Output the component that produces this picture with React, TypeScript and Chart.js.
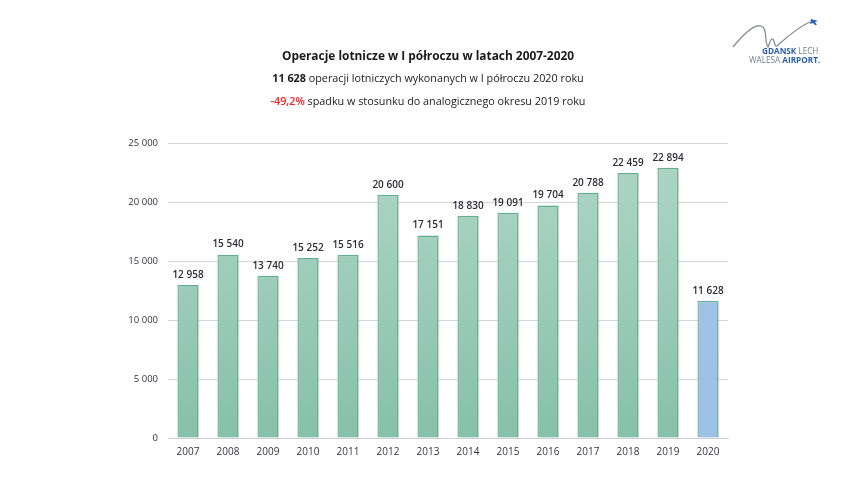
import React, { useEffect, useRef } from "react";
import { Chart, registerables } from "chart.js";

Chart.register(...registerables);

const years = ["2007", "2008", "2009", "2010", "2011", "2012", "2013", "2014", "2015", "2016", "2017", "2018", "2019", "2020"];
const operations = [12958, 15540, 13740, 15252, 15516, 20600, 17151, 18830, 19091, 19704, 20788, 22459, 22894, 11628];
const yTicks = [0, 5000, 10000, 15000, 20000, 25000];

const titleText = "Operacje lotnicze w I półroczu w latach 2007-2020";
const line2Bold = "11 628";
const line2Rest = " operacji lotniczych wykonanych w I półroczu 2020 roku";
const line3Red = "-49,2%";
const line3Rest = " spadku w stosunku do analogicznego okresu 2019 roku";

const FONT = "'Open Sans', 'Noto Sans', sans-serif";

const fmt = (v: number) => String(v).replace(/\B(?=(\d{3})+(?!\d))/g, " ");

export default function App() {
  const ref = useRef<HTMLCanvasElement | null>(null);

  useEffect(() => {
    if (!ref.current) return;
    const makeGrad = (ctx: any, area: any, blue: boolean) => {
      const g = ctx.createLinearGradient(0, area.top, 0, area.bottom);
      if (blue) {
        g.addColorStop(0, "#a2c5e8");
        g.addColorStop(1, "#9cc1e6");
      } else {
        g.addColorStop(0, "#b0d6c8");
        g.addColorStop(1, "#86c1aa");
      }
      return g;
    };

    const labelsPlugin = {
      id: "valueLabels",
      afterDatasetsDraw(chart: any) {
        const ctx = chart.ctx;
        const meta = chart.getDatasetMeta(0);
        ctx.save();
        ctx.font = `600 10px ${FONT}`;
        ctx.fillStyle = "#2b2b3b";
        ctx.textAlign = "center";
        ctx.textBaseline = "bottom";
        meta.data.forEach((el: any, i: number) => {
          ctx.fillText(fmt(operations[i]), el.x, el.y - 5);
        });
        ctx.restore();
      },
    };

    const shadowPlugin = {
      id: "barShadow",
      beforeDatasetsDraw(chart: any) {
        const ctx = chart.ctx;
        ctx.save();
        ctx.shadowColor = "rgba(0,0,0,0.16)";
        ctx.shadowBlur = 3;
        ctx.shadowOffsetX = 2;
        ctx.shadowOffsetY = 1;
      },
      afterDatasetsDraw(chart: any) {
        chart.ctx.restore();
      },
    };

    const chart = new Chart(ref.current, {
      type: "bar",
      data: {
        labels: years,
        datasets: [
          {
            data: operations,
            backgroundColor: (c: any) => {
              const area = c.chart.chartArea;
              if (!area) return "#9ccbb9";
              return makeGrad(c.chart.ctx, area, c.dataIndex === years.length - 1);
            },
            borderColor: (c: any) => (c.dataIndex === years.length - 1 ? "#72b4a0" : "#62b390"),
            borderWidth: 1.4,
            borderSkipped: "bottom",
            barPercentage: 0.53,
            categoryPercentage: 1,
          },
        ],
      },
      options: {
        animation: false,
        responsive: false,
        maintainAspectRatio: false,
        devicePixelRatio: 1,
        layout: { padding: { top: 143, right: 122, left: 0, bottom: 0 } },
        plugins: {
          legend: { display: false },
          tooltip: { enabled: false },
          title: { display: false },
        },
        scales: {
          x: {
            grid: { display: false, drawTicks: false },
            border: { display: true, color: "#d0d0d0" },
            ticks: { color: "#333344", font: { family: FONT, size: 10 }, padding: 8 },
            afterFit: (s: any) => {
              s.height = 66;
            },
          },
          y: {
            min: 0,
            max: 25000,
            afterBuildTicks: (s: any) => {
              s.ticks = yTicks.map((v) => ({ value: v }));
            },
            grid: { color: "#d6d6d6", drawTicks: false, lineWidth: 1 },
            border: { display: false },
            ticks: {
              color: "#333344",
              font: { family: FONT, size: 9.5 },
              padding: 10,
              callback: (v: any) => fmt(Number(v)),
            },
            afterFit: (s: any) => {
              s.width = 168;
            },
          },
        },
      },
      plugins: [shadowPlugin, labelsPlugin],
    } as any);
    return () => chart.destroy();
  }, []);

  return (
    <div style={{ position: "fixed", left: 0, top: 0, width: 850, height: 504, background: "#fff", fontFamily: FONT }}>
      <canvas ref={ref} width={850} height={504} style={{ position: "absolute", left: 0, top: 0 }} />
      <div style={{ position: "absolute", left: 0, width: 856, top: 45, textAlign: "center", color: "#1a1a1a" }}>
        <div style={{ fontWeight: 700, fontSize: 11.9, lineHeight: "20px" }}>{titleText}</div>
        <div style={{ fontSize: 10.8, lineHeight: "23px", marginTop: 1 }}>
          <b>{line2Bold}</b>
          {line2Rest}
        </div>
        <div style={{ fontSize: 10.8, lineHeight: "23px" }}>
          <span style={{ color: "#ff2020", fontWeight: 600 }}>{line3Red}</span>
          {line3Rest}
        </div>
      </div>
      <svg width={110} height={52} style={{ position: "absolute", left: 728, top: 14 }} viewBox="0 0 110 52">
        <path d="M5 33 C 14 22, 26 10, 33 12 C 40 14, 36 28, 40 33 C 42 28, 43 24, 45 25 C 47 27, 46 33, 49 32 C 56 26, 68 14, 82 8" fill="none" stroke="#8a8f96" strokeWidth={1.3} />
        <path d="M83 5 l7 2 l-3 1 l2 3 l-2 0 l-2 -2 l-3 1 z" fill="#2a63b0" />
        <text x={34} y={40} fontFamily={FONT} fontSize={8.2} fontWeight={700} fill="#2a5ea8">GDANSK <tspan fill="#7b8088" fontWeight={400}>LECH</tspan></text>
        <text x={21} y={49} fontFamily={FONT} fontSize={8.2} fill="#7b8088">WALESA <tspan fill="#2a5ea8" fontWeight={700}>AIRPORT.</tspan></text>
      </svg>
    </div>
  );
}
